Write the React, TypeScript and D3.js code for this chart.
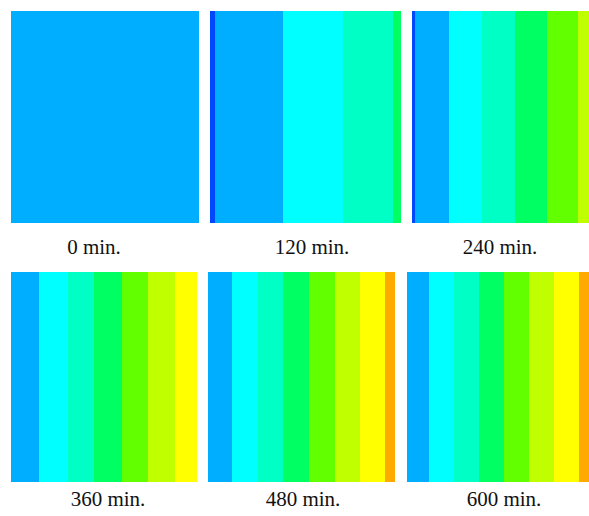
import React from "react";
import * as d3 from "d3";

// Time steps (minutes) shown in each panel
const times = [0, 120, 240, 360, 480, 600];
const labels = ["0 min.", "120 min.", "240 min.", "360 min.", "480 min.", "600 min."];

// Contour levels (index into colour palette), left to right, per panel
const levels0 = [1];
const levels120 = [0, 1, 2, 3, 4];
const levels240 = [0, 1, 2, 3, 4, 5, 6];
const levels360 = [1, 2, 3, 4, 5, 6, 7];
const levels480 = [1, 2, 3, 4, 5, 6, 7, 8];
const levels600 = [1, 2, 3, 4, 5, 6, 7, 8];

// Right edge of each band, as % of the domain length
const edges0 = [100];
const edges120 = [2.9, 38.1, 69.7, 95.6, 100];
const edges240 = [1.4, 20.7, 39.6, 58.3, 76.4, 94.0, 100];
const edges360 = [15.2, 30.5, 44.8, 59.5, 73.8, 88.2, 100];
const edges480 = [13.0, 26.9, 40.3, 54.2, 67.9, 81.3, 94.7, 100];
const edges600 = [12.1, 25.9, 39.6, 53.4, 67.0, 80.5, 94.3, 100];

const palette = [
  "#0048ff",
  "#00aeff",
  "#00ffff",
  "#00ffc4",
  "#00ff62",
  "#62ff00",
  "#bfff00",
  "#ffff00",
  "#ffaa00",
];

const panels = [
  { levels: levels0, edges: edges0 },
  { levels: levels120, edges: edges120 },
  { levels: levels240, edges: edges240 },
  { levels: levels360, edges: edges360 },
  { levels: levels480, edges: edges480 },
  { levels: levels600, edges: edges600 },
];

// Layout (pixels)
const panelX: [number, number][] = [
  [11, 198.5],
  [209.7, 401.3],
  [412.3, 588.5],
  [11, 197],
  [208, 395],
  [407.3, 589],
];
const rowY: [number, number][] = [
  [11, 223],
  [272, 482],
];
const labelX = [94, 312, 500, 108, 303, 504];
const labelY = [254, 506];

export default function App() {
  const color = d3
    .scaleOrdinal<number, string>()
    .domain(d3.range(palette.length))
    .range(palette);

  return (
    <svg
      width={589}
      height={516}
      style={{ position: "absolute", left: 0, top: 0, background: "#fff" }}
      fontFamily="'Liberation Serif', 'Times New Roman', serif"
    >
      {panels.map((p, i) => {
        const row = i < 3 ? 0 : 1;
        const [x0, x1] = panelX[i];
        const [y0, y1] = rowY[row];
        const x = d3.scaleLinear().domain([0, 100]).range([x0, x1]);
        const starts = [0, ...p.edges.slice(0, -1)];
        return (
          <g key={times[i]}>
            {p.levels.map((lv, j) => (
              <rect
                key={j}
                x={x(starts[j])}
                y={y0}
                width={Math.max(0, x(p.edges[j]) - x(starts[j]))}
                height={y1 - y0}
                fill={color(lv)}
                shapeRendering="crispEdges"
              />
            ))}
            <text
              x={labelX[i]}
              y={labelY[row]}
              textAnchor="middle"
              fontSize={21}
              fill="#111"
            >
              {labels[i]}
            </text>
          </g>
        );
      })}
    </svg>
  );
}
